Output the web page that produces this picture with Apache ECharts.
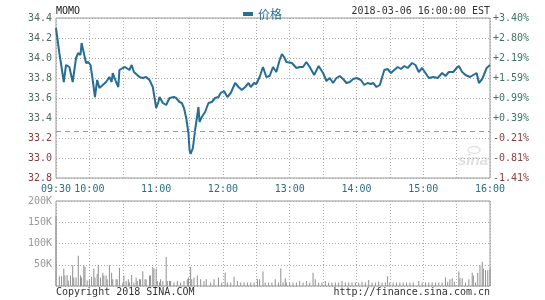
<!DOCTYPE html>
<html>
<head>
<meta charset="utf-8">
<script src="https://cdn.jsdelivr.net/npm/echarts@6/dist/echarts.min.js"></script>
<style>html,body{margin:0;padding:0;background:#fff}#c{width:545px;height:300px}</style>
</head>
<body>
<div id="c"></div>
<script>
// ---- data (minutes after 09:30) ----
var symbol = 'MOMO';
var seriesName = '价格';
var stamp = '2018-03-06 16:00:00 EST';
var prevClose = 33.27;
var priceMin = [0,3,4,7,9,12,15,18,20,22,23,25,27,29,31,33,35,37,39,42,45,48,50,51,54,56,57,60,62,63,66,68,70,75,78,81,84,87,90,92,93,96,99,102,106,108,111,113,115,117,119,120,121,123,125,127,128,129,131,134,137,140,143,146,148,151,154,157,161,164,167,170,173,175,178,180,183,186,189,192,195,198,201,203,205,207,212,216,219,222,225,228,232,236,240,243,246,249,252,255,258,261,264,267,270,274,277,280,283,285,288,291,295,298,301,304,307,310,313,316,320,323,326,329,332,335,339,343,347,350,353,357,360,362,365,368,372,375,378,380,383,387,390];
var prices = [34.30,34.05,33.98,33.76,33.93,33.91,33.76,34.00,34.05,34.03,34.15,34.05,33.95,33.96,33.93,33.78,33.61,33.78,33.70,33.73,33.76,33.81,33.76,33.85,33.76,33.71,33.88,33.90,33.91,33.91,33.88,33.93,33.86,33.81,33.80,33.81,33.78,33.71,33.50,33.56,33.61,33.55,33.53,33.60,33.61,33.60,33.56,33.55,33.50,33.40,33.25,33.08,33.04,33.10,33.28,33.43,33.51,33.36,33.41,33.46,33.55,33.56,33.60,33.61,33.65,33.67,33.61,33.65,33.75,33.71,33.68,33.71,33.75,33.71,33.75,33.74,33.81,33.91,33.81,33.82,33.91,33.86,33.98,34.04,34.01,33.96,33.95,33.90,33.91,33.91,33.96,33.91,33.83,33.92,33.85,33.77,33.80,33.75,33.80,33.82,33.79,33.75,33.76,33.79,33.80,33.78,33.73,33.75,33.74,33.75,33.71,33.73,33.88,33.89,33.85,33.88,33.91,33.89,33.92,33.90,33.95,33.93,33.86,33.90,33.85,33.80,33.81,33.80,33.85,33.82,33.86,33.86,33.90,33.92,33.86,33.83,33.81,33.83,33.85,33.75,33.79,33.90,33.93];
var volMin = [0,3,5,7,8,10,11,13,15,16,18,20,22,23,25,26,28,30,32,34,35,37,38,40,42,43,45,46,48,50,51,54,55,57,60,61,63,65,66,68,70,72,73,75,76,78,80,81,84,85,87,88,90,91,93,94,96,99,100,102,103,106,109,112,115,118,119,121,122,124,127,130,133,135,139,142,146,149,152,154,157,160,163,166,169,172,175,178,181,183,186,188,191,194,197,200,202,204,206,207,210,213,216,219,222,225,228,231,233,236,239,242,245,248,251,254,257,260,263,266,269,272,275,278,281,284,287,290,293,296,298,300,303,306,309,312,315,318,321,326,329,332,335,338,341,344,347,350,352,354,356,358,362,363,365,368,371,374,375,377,379,381,383,384,386,388,390];
var volK = [165,23,23,41,25,26,13,25,49,20,20,71,25,20,49,45,13,16,22,41,20,28,50,20,31,25,25,16,49,31,16,16,16,43,8,25,12,16,8,26,8,20,12,16,16,35,16,16,25,25,45,41,41,12,8,16,12,68,12,12,12,8,12,8,12,16,20,45,16,20,25,16,12,16,8,16,20,8,31,8,8,22,12,8,8,8,8,8,16,16,34,8,8,8,16,8,41,8,18,8,8,8,8,12,8,12,8,31,16,8,8,12,8,8,8,8,12,8,8,8,8,8,10,8,14,8,8,10,8,8,23,8,8,8,8,8,8,8,8,12,8,8,8,8,8,8,8,20,10,16,18,10,35,18,18,8,16,31,25,8,31,49,57,41,37,37,41];
var hourLabels = ['09:30','10:00','11:00','12:00','13:00','14:00','15:00','16:00'];

// ---- build ----
var lineData = priceMin.map(function(m,i){return [m, prices[i]];});
var volData = volMin.map(function(m,i){return [m, volK[i]*1000];});
function minToTime(m){
  var t = 9*60+30+m, h = Math.floor(t/60), mm = t%60;
  return (h<10?'0':'')+h+':'+(mm<10?'0':'')+mm;
}
var mono = 'DejaVu Sans Mono';
var lineColor = '#276d94';
var chart = echarts.init(document.getElementById('c'), null, {renderer:'canvas'});
chart.setOption({
  animation:false,
  backgroundColor:'#fff',
  legend:{
    data:[{name:seriesName, icon:'rect'}],
    left:238, top:3, itemWidth:10, itemHeight:4, itemGap:4,
    textStyle:{color:lineColor, fontSize:12, fontFamily:'Noto Sans CJK SC'}
  },
  grid:[
    {left:56, top:18, width:434, height:160, show:true, borderColor:'#999', borderWidth:1, backgroundColor:'transparent'},
    {left:56, top:201, width:434, height:85, show:true, borderColor:'#999', borderWidth:1, backgroundColor:'transparent'}
  ],
  xAxis:[
    {type:'value', gridIndex:0, min:0, max:390, interval:30,
     axisLine:{show:false}, axisTick:{show:false},
     splitLine:{show:true, lineStyle:{color:'#aaa', type:[1,2], width:1}},
     axisLabel:{show:true, margin:6, hideOverlap:false, showMinLabel:true, showMaxLabel:true,
       color:'#2e6e80', fontFamily:mono, fontSize:10,
       formatter:function(v){ var t=minToTime(v); return hourLabels.indexOf(t)>=0 ? t : ''; }}},
    {type:'value', gridIndex:1, min:0, max:390, interval:30,
     axisLine:{show:false}, axisTick:{show:false}, axisLabel:{show:false},
     splitLine:{show:true, lineStyle:{color:'#aaa', type:[1,2], width:1}}}
  ],
  yAxis:[
    {type:'value', gridIndex:0, min:32.8, max:34.4, interval:0.2, position:'left',
     axisLine:{show:false}, axisTick:{show:false},
     splitLine:{show:true, lineStyle:{color:'#aaa', type:[1,2], width:1}},
     axisLabel:{margin:4, fontFamily:mono, fontSize:10,
       color:function(v){ return (+v) >= prevClose ? '#4f6b5e' : '#8b3a3a'; },
       formatter:function(v){ return v.toFixed(1); }}},
    {type:'value', gridIndex:0, min:32.8, max:34.4, interval:0.2, position:'right',
     axisLine:{show:false}, axisTick:{show:false}, splitLine:{show:false},
     axisLabel:{margin:3, fontFamily:mono, fontSize:10,
       color:function(v){ return (+v) >= prevClose ? '#3f7565' : '#8b4040'; },
       formatter:function(v){ var p=(v/prevClose-1)*100; return (p>=0?'+':'')+p.toFixed(2)+'%'; }}},
    {type:'value', gridIndex:1, min:0, max:200000, interval:50000,
     axisLine:{show:false}, axisTick:{show:false},
     splitLine:{show:true, lineStyle:{color:'#aaa', type:[1,2], width:1}},
     axisLabel:{margin:4, fontFamily:mono, fontSize:10, color:'#999',
       formatter:function(v){ return v===0 ? '' : (v/1000)+'K'; }}}
  ],
  graphic:[
    {type:'text', left:56, top:6, style:{text:symbol, fill:'#222', font:'10px "DejaVu Sans Mono"'}},
    {type:'text', right:55, top:6, style:{text:stamp, fill:'#333', font:'10px "DejaVu Sans Mono"'}},
    {type:'text', left:56, top:287, style:{text:'Copyright 2018 SINA.COM', fill:'#333', font:'10px "DejaVu Sans Mono"'}},
    {type:'text', right:55, top:287, style:{text:'http://finance.sina.com.cn', fill:'#333', font:'10px "DejaVu Sans Mono"'}},
    {type:'ellipse', z:0, shape:{cx:474, cy:150, rx:6, ry:3.5}, style:{fill:'none', stroke:'#e2e2e2', lineWidth:1.5}},
    {type:'text', left:458, top:153, z:0, style:{text:'sina', fill:'#e0e0e0', font:'italic bold 15px "Liberation Sans"'}}
  ],
  series:[
    {name:seriesName, type:'line', xAxisIndex:0, yAxisIndex:0, data:lineData,
     showSymbol:false, symbol:'none', lineStyle:{color:lineColor, width:2}, itemStyle:{color:lineColor},
     markLine:{silent:true, symbol:'none', label:{show:false},
       lineStyle:{color:'#999', type:[5,4], width:1}, data:[{yAxis:prevClose}]}},
    {name:'vol', type:'bar', xAxisIndex:1, yAxisIndex:2, data:volData, barWidth:1,
     itemStyle:{color:'#8f8f8f'}}
  ]
});
</script>
</body>
</html>
